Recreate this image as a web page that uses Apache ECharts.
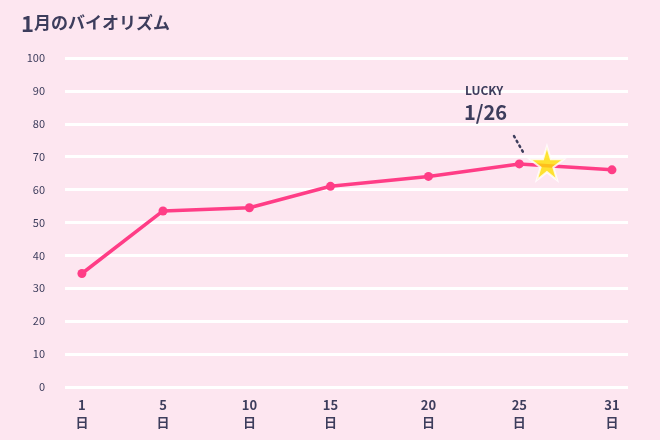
<!DOCTYPE html><html><head><meta charset="utf-8">
<script src="https://cdn.jsdelivr.net/npm/echarts@6/dist/echarts.min.js"></script>
<style>html,body{margin:0;background:#fde6f0}#c{width:660px;height:440px}</style></head><body><div id="c"></div>
<script>
const days=['1','5','10','15','20','25','31'];
const dayPos=[0,0.91,1.88,2.79,3.89,4.91,5.95];
const values=[34.5,53.5,54.5,61,64,67.8,66];
const yTicks=[0,10,20,30,40,50,60,70,80,90,100];
const lucky={pos:5.22,value:68,label:'1/26'};
const c=echarts.init(document.getElementById('c'));
const font='"Noto Sans CJK JP","Noto Sans",sans-serif';
c.setOption({
 backgroundColor:'#fde6f0',
 title:{text:'1',left:16,top:8,textStyle:{fontSize:22,fontWeight:'bold',color:'#3d3d5c',fontFamily:font}},
 graphic:[
  {type:'text',left:34,top:14,style:{text:'月のバイオリズム',fontSize:17,fontWeight:'bold',fill:'#3d3d5c',fontFamily:font}},
  {type:'text',left:465,top:84,z:10,style:{text:'LUCKY',fontSize:12,fontWeight:'bold',fill:'#3d3d5c',fontFamily:font}},
  {type:'text',left:464,top:102,z:10,style:{text:lucky.label,fontSize:20,fontWeight:'bold',fill:'#3d3d5c',fontFamily:font}},
  {type:'line',shape:{x1:514,y1:136,x2:523,y2:152},style:{stroke:'#3d3d5c',lineWidth:2.5,lineDash:[1.5,4],lineCap:'round'}}
 ],
 grid:{left:65,right:32,top:58,bottom:53},
 xAxis:{type:'value',min:-0.19,max:6.13,splitLine:{show:false},axisLine:{show:false},axisTick:{show:false},
  axisLabel:{customValues:dayPos,formatter:v=>{const i=dayPos.findIndex(p=>Math.abs(p-v)<1e-6);return i<0?'':days[i]+'\n日';},color:'#3d3d5c',fontSize:13,fontWeight:'bold',fontFamily:font,lineHeight:17,margin:10}},
 yAxis:{type:'value',min:0,max:100,interval:10,axisLine:{show:false},axisTick:{show:false},
  axisLabel:{color:'#3d3d5c',fontSize:11,fontFamily:font,margin:20,formatter:v=>yTicks.includes(v)?String(v):''},
  splitLine:{lineStyle:{color:'#ffffff',width:3}}},
 series:[
  {type:'line',data:values.map((v,i)=>[dayPos[i],v]),symbol:'circle',symbolSize:9,color:'#ff3d86',lineStyle:{width:3.5,color:'#ff3d86'},itemStyle:{color:'#ff3d86'},z:3},
  {type:'scatter',data:[[lucky.pos,lucky.value]],symbol:'path://M50,0 L61,35 L98,35 L68,57 L79,92 L50,70 L21,92 L32,57 L2,35 L39,35 Z',symbolSize:34,itemStyle:{color:'#ffe000',borderColor:'#ffffff',borderWidth:2},z:5}
 ]
});
</script></body></html>
